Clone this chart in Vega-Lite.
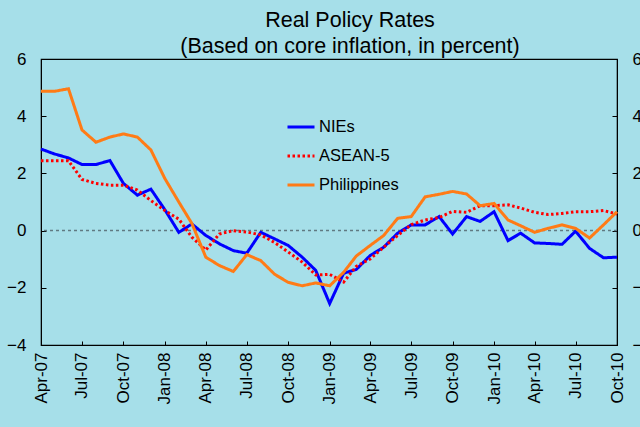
{
  "$schema": "https://vega.github.io/schema/vega-lite/v6.json",
  "width": 576,
  "height": 286,
  "autosize": {"type": "none"},
  "padding": {"left": 41, "top": 59, "right": 23, "bottom": 82},
  "background": "#a6dfe9",
  "title": {
    "text": ["Real Policy Rates", "(Based on core inflation, in percent)"],
    "font": "Liberation Sans",
    "fontSize": 21.5,
    "fontWeight": "normal",
    "color": "#000000",
    "lineHeight": 26,
    "anchor": "middle",
    "dx": 21,
    "offset": -7
  },
  "config": {
    "view": {"stroke": "#000000", "strokeWidth": 1.2, "fill": "#a6dfe9"},
    "axis": {
      "labelFont": "Liberation Sans",
      "labelColor": "#000000",
      "domainColor": "#000000",
      "tickColor": "#000000",
      "grid": false,
      "title": null
    },
    "legend": {
      "labelFont": "Liberation Sans",
      "labelFontSize": 16.5,
      "labelColor": "#000000"
    }
  },
  "datasets": {
    "rates": [
      {"date": "2007-04-01", "series": "NIEs", "value": 2.85},
      {"date": "2007-05-01", "series": "NIEs", "value": 2.68},
      {"date": "2007-06-01", "series": "NIEs", "value": 2.54},
      {"date": "2007-07-01", "series": "NIEs", "value": 2.31},
      {"date": "2007-08-01", "series": "NIEs", "value": 2.31},
      {"date": "2007-09-01", "series": "NIEs", "value": 2.45},
      {"date": "2007-10-01", "series": "NIEs", "value": 1.65},
      {"date": "2007-11-01", "series": "NIEs", "value": 1.24},
      {"date": "2007-12-01", "series": "NIEs", "value": 1.45},
      {"date": "2008-01-01", "series": "NIEs", "value": 0.73},
      {"date": "2008-02-01", "series": "NIEs", "value": -0.06},
      {"date": "2008-03-01", "series": "NIEs", "value": 0.23},
      {"date": "2008-04-01", "series": "NIEs", "value": -0.17},
      {"date": "2008-05-01", "series": "NIEs", "value": -0.46},
      {"date": "2008-06-01", "series": "NIEs", "value": -0.7},
      {"date": "2008-07-01", "series": "NIEs", "value": -0.79},
      {"date": "2008-08-01", "series": "NIEs", "value": -0.06},
      {"date": "2008-09-01", "series": "NIEs", "value": -0.29},
      {"date": "2008-10-01", "series": "NIEs", "value": -0.52},
      {"date": "2008-11-01", "series": "NIEs", "value": -0.93},
      {"date": "2008-12-01", "series": "NIEs", "value": -1.39},
      {"date": "2009-01-01", "series": "NIEs", "value": -2.55},
      {"date": "2009-02-01", "series": "NIEs", "value": -1.49},
      {"date": "2009-03-01", "series": "NIEs", "value": -1.36},
      {"date": "2009-04-01", "series": "NIEs", "value": -0.87},
      {"date": "2009-05-01", "series": "NIEs", "value": -0.58},
      {"date": "2009-06-01", "series": "NIEs", "value": -0.09},
      {"date": "2009-07-01", "series": "NIEs", "value": 0.2},
      {"date": "2009-08-01", "series": "NIEs", "value": 0.2},
      {"date": "2009-09-01", "series": "NIEs", "value": 0.49},
      {"date": "2009-10-01", "series": "NIEs", "value": -0.12},
      {"date": "2009-11-01", "series": "NIEs", "value": 0.49},
      {"date": "2009-12-01", "series": "NIEs", "value": 0.32},
      {"date": "2010-01-01", "series": "NIEs", "value": 0.66},
      {"date": "2010-02-01", "series": "NIEs", "value": -0.35},
      {"date": "2010-03-01", "series": "NIEs", "value": -0.09},
      {"date": "2010-04-01", "series": "NIEs", "value": -0.43},
      {"date": "2010-05-01", "series": "NIEs", "value": -0.45},
      {"date": "2010-06-01", "series": "NIEs", "value": -0.48},
      {"date": "2010-07-01", "series": "NIEs", "value": -0.02},
      {"date": "2010-08-01", "series": "NIEs", "value": -0.62},
      {"date": "2010-09-01", "series": "NIEs", "value": -0.95},
      {"date": "2010-10-01", "series": "NIEs", "value": -0.93},

      {"date": "2007-04-01", "series": "ASEAN-5", "value": 2.44},
      {"date": "2007-05-01", "series": "ASEAN-5", "value": 2.44},
      {"date": "2007-06-01", "series": "ASEAN-5", "value": 2.44},
      {"date": "2007-07-01", "series": "ASEAN-5", "value": 1.79},
      {"date": "2007-08-01", "series": "ASEAN-5", "value": 1.65},
      {"date": "2007-09-01", "series": "ASEAN-5", "value": 1.59},
      {"date": "2007-10-01", "series": "ASEAN-5", "value": 1.59},
      {"date": "2007-11-01", "series": "ASEAN-5", "value": 1.42},
      {"date": "2007-12-01", "series": "ASEAN-5", "value": 1.05},
      {"date": "2008-01-01", "series": "ASEAN-5", "value": 0.7},
      {"date": "2008-02-01", "series": "ASEAN-5", "value": 0.4},
      {"date": "2008-03-01", "series": "ASEAN-5", "value": -0.23},
      {"date": "2008-04-01", "series": "ASEAN-5", "value": -0.68},
      {"date": "2008-05-01", "series": "ASEAN-5", "value": -0.12},
      {"date": "2008-06-01", "series": "ASEAN-5", "value": 0.0},
      {"date": "2008-07-01", "series": "ASEAN-5", "value": -0.05},
      {"date": "2008-08-01", "series": "ASEAN-5", "value": -0.15},
      {"date": "2008-09-01", "series": "ASEAN-5", "value": -0.42},
      {"date": "2008-10-01", "series": "ASEAN-5", "value": -0.75},
      {"date": "2008-11-01", "series": "ASEAN-5", "value": -1.1},
      {"date": "2008-12-01", "series": "ASEAN-5", "value": -1.55},
      {"date": "2009-01-01", "series": "ASEAN-5", "value": -1.53},
      {"date": "2009-02-01", "series": "ASEAN-5", "value": -1.8},
      {"date": "2009-03-01", "series": "ASEAN-5", "value": -1.25},
      {"date": "2009-04-01", "series": "ASEAN-5", "value": -0.99},
      {"date": "2009-05-01", "series": "ASEAN-5", "value": -0.58},
      {"date": "2009-06-01", "series": "ASEAN-5", "value": -0.17},
      {"date": "2009-07-01", "series": "ASEAN-5", "value": 0.21},
      {"date": "2009-08-01", "series": "ASEAN-5", "value": 0.37},
      {"date": "2009-09-01", "series": "ASEAN-5", "value": 0.46},
      {"date": "2009-10-01", "series": "ASEAN-5", "value": 0.67},
      {"date": "2009-11-01", "series": "ASEAN-5", "value": 0.64},
      {"date": "2009-12-01", "series": "ASEAN-5", "value": 0.87},
      {"date": "2010-01-01", "series": "ASEAN-5", "value": 0.87},
      {"date": "2010-02-01", "series": "ASEAN-5", "value": 0.9},
      {"date": "2010-03-01", "series": "ASEAN-5", "value": 0.79},
      {"date": "2010-04-01", "series": "ASEAN-5", "value": 0.64},
      {"date": "2010-05-01", "series": "ASEAN-5", "value": 0.56},
      {"date": "2010-06-01", "series": "ASEAN-5", "value": 0.6},
      {"date": "2010-07-01", "series": "ASEAN-5", "value": 0.66},
      {"date": "2010-08-01", "series": "ASEAN-5", "value": 0.66},
      {"date": "2010-09-01", "series": "ASEAN-5", "value": 0.7},
      {"date": "2010-10-01", "series": "ASEAN-5", "value": 0.58},

      {"date": "2007-04-01", "series": "Philippines", "value": 4.87},
      {"date": "2007-05-01", "series": "Philippines", "value": 4.87},
      {"date": "2007-06-01", "series": "Philippines", "value": 4.96},
      {"date": "2007-07-01", "series": "Philippines", "value": 3.52},
      {"date": "2007-08-01", "series": "Philippines", "value": 3.09},
      {"date": "2007-09-01", "series": "Philippines", "value": 3.27},
      {"date": "2007-10-01", "series": "Philippines", "value": 3.38},
      {"date": "2007-11-01", "series": "Philippines", "value": 3.27},
      {"date": "2007-12-01", "series": "Philippines", "value": 2.82},
      {"date": "2008-01-01", "series": "Philippines", "value": 1.82},
      {"date": "2008-02-01", "series": "Philippines", "value": 1.0},
      {"date": "2008-03-01", "series": "Philippines", "value": 0.25},
      {"date": "2008-04-01", "series": "Philippines", "value": -0.93},
      {"date": "2008-05-01", "series": "Philippines", "value": -1.22},
      {"date": "2008-06-01", "series": "Philippines", "value": -1.43},
      {"date": "2008-07-01", "series": "Philippines", "value": -0.84},
      {"date": "2008-08-01", "series": "Philippines", "value": -1.05},
      {"date": "2008-09-01", "series": "Philippines", "value": -1.53},
      {"date": "2008-10-01", "series": "Philippines", "value": -1.81},
      {"date": "2008-11-01", "series": "Philippines", "value": -1.93},
      {"date": "2008-12-01", "series": "Philippines", "value": -1.83},
      {"date": "2009-01-01", "series": "Philippines", "value": -1.93},
      {"date": "2009-02-01", "series": "Philippines", "value": -1.46},
      {"date": "2009-03-01", "series": "Philippines", "value": -0.89},
      {"date": "2009-04-01", "series": "Philippines", "value": -0.52},
      {"date": "2009-05-01", "series": "Philippines", "value": -0.17},
      {"date": "2009-06-01", "series": "Philippines", "value": 0.43},
      {"date": "2009-07-01", "series": "Philippines", "value": 0.49},
      {"date": "2009-08-01", "series": "Philippines", "value": 1.18},
      {"date": "2009-09-01", "series": "Philippines", "value": 1.27},
      {"date": "2009-10-01", "series": "Philippines", "value": 1.37},
      {"date": "2009-11-01", "series": "Philippines", "value": 1.28},
      {"date": "2009-12-01", "series": "Philippines", "value": 0.87},
      {"date": "2010-01-01", "series": "Philippines", "value": 0.95},
      {"date": "2010-02-01", "series": "Philippines", "value": 0.37},
      {"date": "2010-03-01", "series": "Philippines", "value": 0.17},
      {"date": "2010-04-01", "series": "Philippines", "value": -0.06},
      {"date": "2010-05-01", "series": "Philippines", "value": 0.08},
      {"date": "2010-06-01", "series": "Philippines", "value": 0.2},
      {"date": "2010-07-01", "series": "Philippines", "value": 0.08},
      {"date": "2010-08-01", "series": "Philippines", "value": -0.26},
      {"date": "2010-09-01", "series": "Philippines", "value": 0.2},
      {"date": "2010-10-01", "series": "Philippines", "value": 0.66}
    ],
    "zero": [{"z": 0}]
  },
  "layer": [
    {
      "data": {"name": "zero"},
      "mark": {"type": "rule", "color": "#607a82", "strokeWidth": 1.5, "strokeDash": [3, 3]},
      "encoding": {
        "y": {
          "field": "z",
          "type": "quantitative",
          "scale": {"domain": [-4, 6], "nice": false, "zero": false},
          "axis": {
            "orient": "right",
            "values": [-4, -2, 0, 2, 4, 6],
            "tickSize": -5,
            "labelPadding": 20,
            "labelFontSize": 17,
            "labelAlign": "left",
            "domain": true,
            "title": null
          }
        }
      }
    },
    {
      "data": {"name": "rates"},
      "mark": {"type": "line", "strokeWidth": 3},
      "encoding": {
        "x": {
          "field": "date",
          "type": "temporal",
          "scale": {"type": "utc", "domain": ["2007-04-01", "2010-10-01"], "nice": false},
          "axis": {
            "format": "%b-%y",
            "tickCount": {"interval": "month", "step": 3},
            "labelAngle": -90,
            "labelFontSize": 17,
            "tickSize": -4,
            "labelPadding": 11,
            "labelFlush": false,
            "labelOverlap": false,
            "title": null
          }
        },
        "y": {
          "field": "value",
          "type": "quantitative",
          "scale": {"domain": [-4, 6], "nice": false, "zero": false},
          "axis": {
            "orient": "left",
            "values": [-4, -2, 0, 2, 4, 6],
            "tickSize": -5,
            "labelPadding": 20,
            "labelFontSize": 17,
            "title": null
          }
        },
        "color": {
          "field": "series",
          "type": "nominal",
          "scale": {"domain": ["NIEs", "ASEAN-5", "Philippines"], "range": ["#0000ff", "#ff0000", "#ff7b16"]},
          "legend": {
            "title": null,
            "orient": "none",
            "legendX": 245,
            "legendY": 53,
            "padding": 0,
            "symbolType": "stroke",
            "symbolSize": 729,
            "symbolStrokeWidth": 3,
            "labelOffset": 3,
            "rowPadding": 5
          }
        },
        "strokeDash": {
          "field": "series",
          "type": "nominal",
          "scale": {"domain": ["NIEs", "ASEAN-5", "Philippines"], "range": [[1, 0], [2.5, 2.5], [1, 0]]},
          "legend": {
            "title": null,
            "orient": "none",
            "legendX": 245,
            "legendY": 53,
            "padding": 0,
            "symbolType": "stroke",
            "symbolSize": 729,
            "symbolStrokeWidth": 3,
            "labelOffset": 3,
            "rowPadding": 5
          }
        }
      }
    }
  ],
  "resolve": {"axis": {"y": "independent"}}
}
